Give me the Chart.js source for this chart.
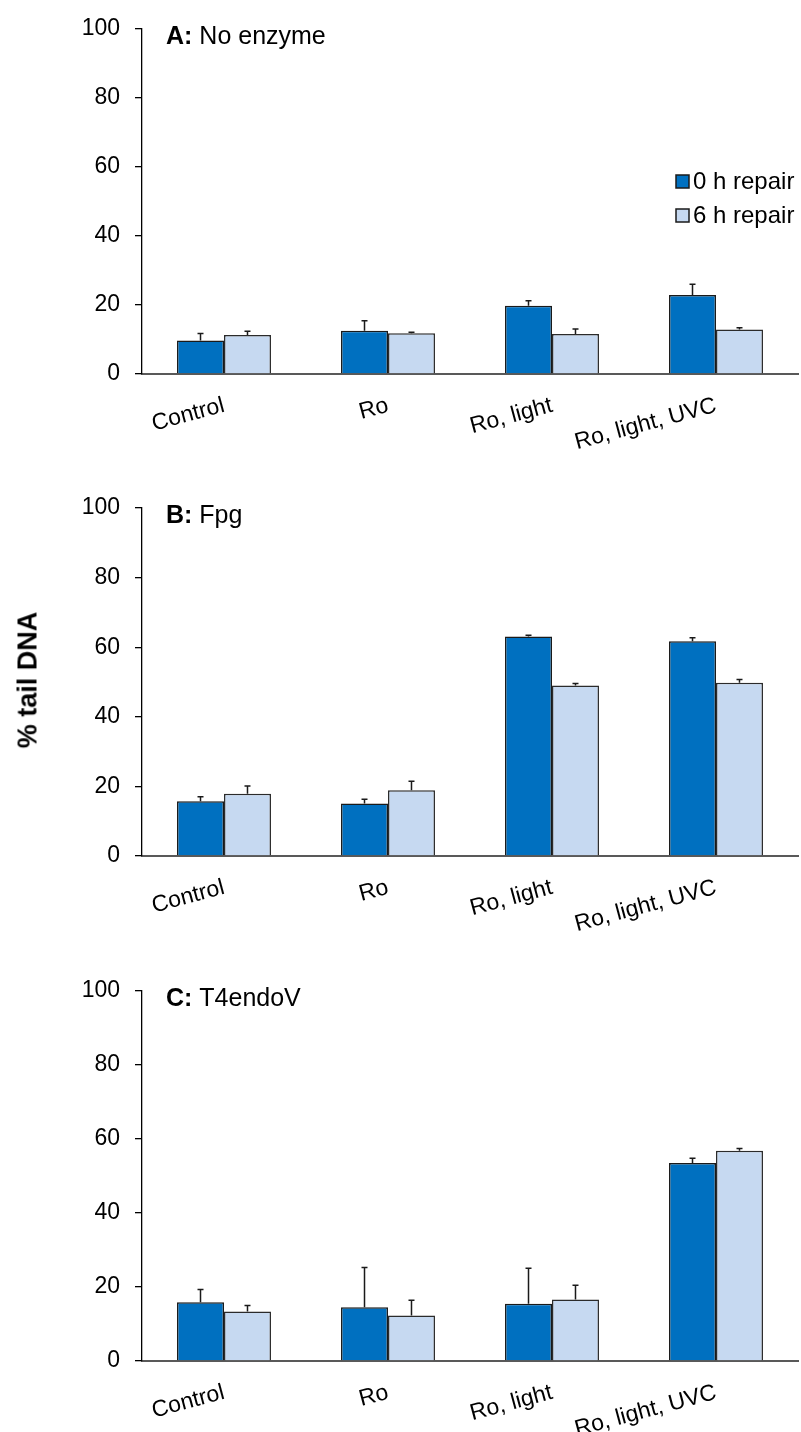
<!DOCTYPE html>
<html>
<head>
<meta charset="utf-8">
<script src="https://cdn.jsdelivr.net/npm/chart.js@4.4.0/dist/chart.umd.min.js"></script>
<style>
  body { margin: 0; background: #fff; }
  #wrap { position: relative; width: 801px; height: 1432px; overflow: hidden; }
  canvas { position: absolute; left: 0; }
  #ylab {
    position: absolute; left: 28px; top: 680px;
    transform: translate(-50%, -50%) rotate(-90deg);
    font: bold 27px "Liberation Sans", Arial, sans-serif; white-space: nowrap;
  }
</style>
</head>
<body>
<div id="wrap">
  <canvas id="chartA" width="801" height="450" style="top:0px"></canvas>
  <canvas id="chartB" width="801" height="482" style="top:450px"></canvas>
  <canvas id="chartC" width="801" height="500" style="top:932px"></canvas>
  <div id="ylab">% tail DNA</div>
</div>
<script>
var categories = ["Control", "Ro", "Ro, light", "Ro, light, UVC"];
var seriesNames = ["0 h repair", "6 h repair"];
var yTicks = [0, 20, 40, 60, 80, 100];

// A: no enzyme
var noEnzyme0h = [9.7, 12.5, 19.8, 22.9];
var noEnzyme0hErr = [2.0, 2.9, 1.4, 3.1];
var noEnzyme6h = [11.3, 11.8, 11.6, 12.9];
var noEnzyme6hErr = [1.1, 0.3, 1.4, 0.5];

// B: Fpg
var fpg0h = [15.7, 15.1, 63.1, 61.7];
var fpg0hErr = [1.3, 1.2, 0.3, 1.0];
var fpg6h = [17.9, 18.9, 49.0, 49.8];
var fpg6hErr = [2.2, 2.6, 0.6, 0.9];

// C: T4endoV
var t4_0h = [15.9, 14.5, 15.5, 53.5];
var t4_0hErr = [3.4, 10.8, 9.6, 1.3];
var t4_6h = [13.4, 12.3, 16.6, 56.8];
var t4_6hErr = [1.6, 4.1, 3.9, 0.6];

var FONT = '"Liberation Sans", Arial, sans-serif';
var darkBlue = '#0070C0';
var lightBlue = '#C6D9F1';

var errorBars = {
    id: 'errorBars',
    afterDatasetsDraw: function (chart) {
        var ctx = chart.ctx;
        var y = chart.scales.y;
        ctx.save();
        ctx.strokeStyle = '#1a1a1a';
        ctx.lineWidth = 1.5;
        chart.data.datasets.forEach(function (ds, i) {
            var meta = chart.getDatasetMeta(i);
            meta.data.forEach(function (bar, j) {
                var yTop = y.getPixelForValue(ds.data[j]);
                var yEnd = y.getPixelForValue(ds.data[j] + ds.errors[j]);
                ctx.beginPath();
                ctx.moveTo(bar.x, yTop);
                ctx.lineTo(bar.x, yEnd);
                ctx.moveTo(bar.x - 3, yEnd);
                ctx.lineTo(bar.x + 3, yEnd);
                ctx.stroke();
            });
        });
        ctx.restore();
    }
};

var panelTitle = {
    id: 'panelTitle',
    afterDraw: function (chart, args, opts) {
        var ctx = chart.ctx;
        var x = chart.chartArea.left + 24;
        var yb = chart.chartArea.top + 15;
        ctx.save();
        ctx.fillStyle = '#000';
        ctx.textBaseline = 'alphabetic';
        ctx.font = 'bold 25px ' + FONT;
        ctx.fillText(opts.letter, x, yb);
        var w = ctx.measureText(opts.letter).width;
        ctx.font = '25px ' + FONT;
        ctx.fillText(' ' + opts.text, x + w, yb);
        ctx.restore();
    }
};

var boxLegend = {
    id: 'boxLegend',
    afterDraw: function (chart, args, opts) {
        if (!opts.show) return;
        var ctx = chart.ctx;
        ctx.save();
        chart.data.datasets.forEach(function (ds, i) {
            var top = opts.top + i * 34;
            ctx.fillStyle = ds.backgroundColor;
            ctx.fillRect(opts.left, top, 13, 13);
            ctx.strokeStyle = '#1a1a1a';
            ctx.lineWidth = 1.5;
            ctx.strokeRect(opts.left, top, 13, 13);
            ctx.fillStyle = '#000';
            ctx.font = '24px ' + FONT;
            ctx.textBaseline = 'middle';
            ctx.fillText(ds.label, opts.left + 17, top + 7);
        });
        ctx.restore();
    }
};

function makePanel(id, letter, text, d0, e0, d6, e6, padTop, xHeight, showLegend) {
    var ctx = document.getElementById(id).getContext('2d');
    return new Chart(ctx, {
        type: 'bar',
        data: {
            labels: categories,
            datasets: [{
                label: seriesNames[0],
                data: d0,
                errors: e0,
                backgroundColor: darkBlue,
                borderColor: '#1a1a1a',
                borderWidth: 1.5
            }, {
                label: seriesNames[1],
                data: d6,
                errors: e6,
                backgroundColor: lightBlue,
                borderColor: '#2b2b2b',
                borderWidth: 1.5
            }]
        },
        options: {
            responsive: false,
            animation: false,
            layout: {
                padding: { top: padTop, right: 3, bottom: 0, left: 0 }
            },
            datasets: {
                bar: { categoryPercentage: 0.573, barPercentage: 1.0 }
            },
            scales: {
                x: {
                    grid: { display: false, drawTicks: false },
                    border: { display: true, color: '#595959', width: 2 },
                    ticks: {
                        color: '#000',
                        font: { family: FONT, size: 23 },
                        minRotation: 15,
                        maxRotation: 15,
                        padding: 18
                    },
                    afterFit: function (scale) { scale.height = xHeight; }
                },
                y: {
                    min: 0,
                    max: 100,
                    afterBuildTicks: function (scale) {
                        scale.ticks = yTicks.map(function (v) { return { value: v }; });
                    },
                    grid: { drawOnChartArea: false, drawTicks: true, tickLength: 7, color: '#000', lineWidth: 1.3 },
                    border: { display: true, color: '#000', width: 1.3 },
                    ticks: {
                        color: '#000',
                        font: { family: FONT, size: 23 },
                        padding: 15
                    },
                    afterFit: function (scale) { scale.width = 142; }
                }
            },
            plugins: {
                legend: { display: false },
                tooltip: { enabled: false },
                panelTitle: { letter: letter, text: text },
                boxLegend: { show: showLegend, left: 676, top: 175 }
            }
        },
        plugins: [errorBars, panelTitle, boxLegend]
    });
}

var chartA = makePanel('chartA', 'A:', 'No enzyme', noEnzyme0h, noEnzyme0hErr, noEnzyme6h, noEnzyme6hErr, 26, 76, true);
var chartB = makePanel('chartB', 'B:', 'Fpg', fpg0h, fpg0hErr, fpg6h, fpg6hErr, 58, 76, false);
var chartC = makePanel('chartC', 'C:', 'T4endoV', t4_0h, t4_0hErr, t4_6h, t4_6hErr, 59, 71, false);
</script>
</body>
</html>
